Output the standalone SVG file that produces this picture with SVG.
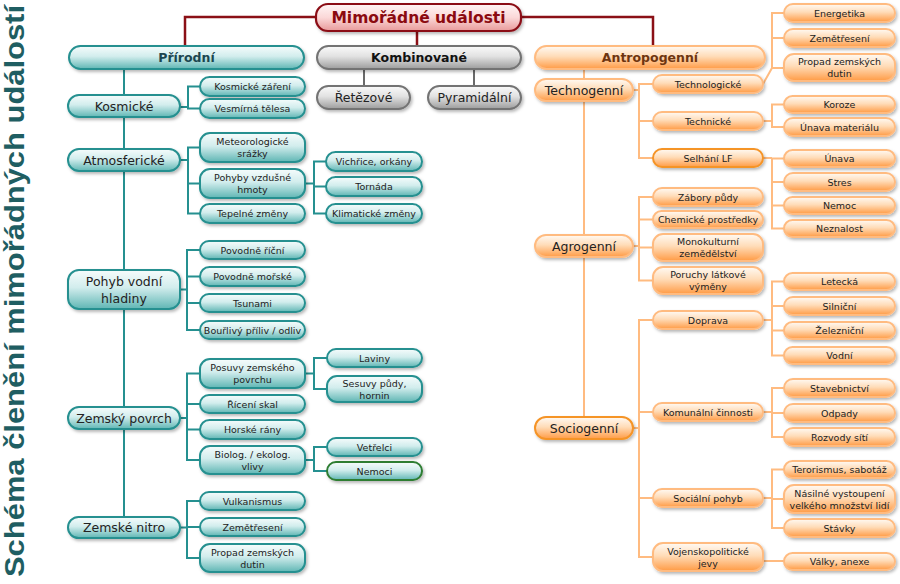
<svg xmlns="http://www.w3.org/2000/svg" width="900" height="584" viewBox="0 0 900 584">
<defs>
<linearGradient id="gt" x1="0" y1="0" x2="0" y2="1"><stop offset="0" stop-color="#f6fcfc"/><stop offset="0.45" stop-color="#d2eded"/><stop offset="1" stop-color="#5fb6b4"/></linearGradient>
<linearGradient id="go" x1="0" y1="0" x2="0" y2="1"><stop offset="0" stop-color="#fffaf4"/><stop offset="0.45" stop-color="#ffdcb8"/><stop offset="1" stop-color="#ff9b45"/></linearGradient>
<linearGradient id="gg" x1="0" y1="0" x2="0" y2="1"><stop offset="0" stop-color="#fafafa"/><stop offset="0.45" stop-color="#e2e2e2"/><stop offset="1" stop-color="#9c9c9c"/></linearGradient>
<linearGradient id="gr" x1="0" y1="0" x2="0" y2="1"><stop offset="0" stop-color="#fff6f6"/><stop offset="0.5" stop-color="#fbd8d8"/><stop offset="1" stop-color="#e89a9a"/></linearGradient>
<filter id="sh" x="-10%" y="-20%" width="130%" height="160%"><feDropShadow dx="1.5" dy="2" stdDeviation="1.5" flood-color="#000" flood-opacity="0.28"/></filter>
</defs>
<style>
.t{fill:url(#gt);stroke:#259090;stroke-width:2;filter:url(#sh)}
.o{fill:url(#go);stroke:#ffbb80;stroke-width:2;filter:url(#sh)}
.od{fill:url(#go);stroke:#f59428;stroke-width:2;filter:url(#sh)}
.g{fill:url(#gg);stroke:#737373;stroke-width:2;filter:url(#sh)}
.r{fill:url(#gr);stroke:#8b1016;stroke-width:2.2;filter:url(#sh)}
.ng{fill:url(#gt);stroke:#2e7d32;stroke-width:2;filter:url(#sh)}
text{font-family:"DejaVu Sans",Verdana,sans-serif;text-anchor:middle;dominant-baseline:central;fill:#222}
.s{font-size:9.5px}
.m{font-size:12.5px}
.b{font-size:12.5px;font-weight:bold}
.lt{stroke:#259090;stroke-width:2;fill:none}
.lo{stroke:#ffbb80;stroke-width:2;fill:none}
.lg{stroke:#6a6a6a;stroke-width:2;fill:none}
.lr{stroke:#8b1016;stroke-width:2.5;fill:none}
</style>

<text transform="translate(14,291) rotate(-90)" style="font-family:'Liberation Sans',Arial,sans-serif;font-size:28px;font-weight:bold;fill:#1f5e62" textLength="572" lengthAdjust="spacingAndGlyphs">Schéma členění mimořádných událostí</text>

<g id="connectors">
<path class="lr" d="M316,17 H185 V46 M521,17 H653 V46 M417,31 V46"/>
<path class="lg" d="M364,69 V86 M474,69 V86"/>
<path class="lt" d="M124,69 V517"/>
<path class="lt" d="M180,107 H188 M200,86.5 H188 V108.5 H200"/>
<path class="lt" d="M180,160 H188 M200,147.5 H188 V213.5 H200 M188,183.5 H200"/>
<path class="lt" d="M180,289.5 H187 M200,250 H187 V330 H200 M187,276.5 H200 M187,303 H200"/>
<path class="lt" d="M180,418 H187 M200,373.5 H187 V460 H200 M187,404 H200 M187,429.5 H200"/>
<path class="lt" d="M180,527.5 H187 M200,501 H187 V558 H200 M187,527 H200"/>
<path class="lt" d="M305,183.5 H314 M326,161.5 H314 V213.5 H326 M314,186.5 H326"/>
<path class="lt" d="M305,373.5 H314 M327,358 H314 V389 H327"/>
<path class="lt" d="M305,460 H314 M327,447 H314 V471 H327"/>
<path class="lo" d="M584,69 V417"/>
<path class="lo" d="M633,90 H639 M653,84 H639 V158 H653 M639,121 H653"/>
<path class="lo" d="M633,246 H639 M653,197 H639 V280.5 H653 M639,219.5 H653 M639,247.5 H653"/>
<path class="lo" d="M633,428 H639 M653,320 H639 V557 H653 M639,412 H653 M639,498 H653"/>
<path class="lo" d="M763,84 L772,68 V13 H784 M772,38 H784 M772,68 H784"/>
<path class="lo" d="M763,121 H772 M784,104.5 H772 V127 H784"/>
<path class="lo" d="M763,158 H772 M784,158.5 H772 V228.5 H784 M772,182 H784 M772,205.5 H784"/>
<path class="lo" d="M763,320 H772 M784,281.5 H772 V355.5 H784 M772,306 H784 M772,330.5 H784"/>
<path class="lo" d="M763,412 H772 M784,388 H772 V437 H784 M772,413 H784"/>
<path class="lo" d="M763,498 H772 M784,469.5 H772 V528 H784 M772,499 H784"/>
<path class="lo" d="M763,561 H784"/>
</g>

<g id="root"><rect class="r" x="316" y="4" width="205" height="27" rx="12"/><text x="418.5" y="17.5" style="font-size:15.5px;font-weight:bold;fill:#8b0a10">Mimořádné události</text></g>

<g id="prirodni"><rect class="t" x="69" y="46" width="235" height="23" rx="11.5"/><text class="b" x="186.5" y="57.5" style="fill:#1b4650">Přírodní</text></g>
<g id="kombinovane"><rect class="g" x="317" y="46" width="204" height="23" rx="11.5"/><text class="b" x="419" y="57.5" style="fill:#111">Kombinované</text></g>
<g id="retezove"><rect class="g" x="317" y="86" width="93" height="23" rx="11.5"/><text class="m" x="363.5" y="97.5">Řetězové</text></g>
<g id="pyramidalni"><rect class="g" x="428" y="86" width="93" height="23" rx="11.5"/><text class="m" x="474.5" y="97.5">Pyramidální</text></g>
<g id="antropogenni"><rect class="o" x="535" y="46" width="230" height="23" rx="11.5"/><text class="b" x="650" y="57.5" style="fill:#6e3510">Antropogenní</text></g>

<g id="kosmicke"><rect class="t" x="68" y="95" width="112" height="22" rx="11"/><text class="m" x="124" y="106">Kosmické</text></g>
<g id="atmosfericke"><rect class="t" x="68" y="149" width="112" height="22" rx="11"/><text class="m" x="124" y="160">Atmosferické</text></g>
<g id="pohyb-vodni-hladiny"><rect class="t" x="68" y="270" width="112" height="39" rx="11"/><text class="m" x="124" y="281">Pohyb vodní</text><text class="m" x="124" y="298">hladiny</text></g>
<g id="zemsky-povrch"><rect class="t" x="68" y="407" width="112" height="22" rx="11"/><text class="m" x="124" y="418">Zemský povrch</text></g>
<g id="zemske-nitro"><rect class="t" x="68" y="517" width="112" height="21" rx="10.5"/><text class="m" x="124" y="527.5">Zemské nitro</text></g>

<g id="kosmicke-zareni"><rect class="t" x="200" y="77" width="105" height="19" rx="9.5"/><text class="s" x="252.5" y="86.5">Kosmické záření</text></g>
<g id="vesmirna-telesa"><rect class="t" x="200" y="99" width="105" height="19" rx="9.5"/><text class="s" x="252.5" y="108.5">Vesmírná tělesa</text></g>
<g id="meteorologicke-srazky"><rect class="t" x="200" y="133" width="105" height="29" rx="10"/><text class="s" x="252.5" y="141.5">Meteorologické</text><text class="s" x="252.5" y="153.5">srážky</text></g>
<g id="pohyby-vzdusne-hmoty"><rect class="t" x="200" y="169" width="105" height="29" rx="10"/><text class="s" x="252.5" y="177.5">Pohyby vzdušné</text><text class="s" x="252.5" y="189.5">hmoty</text></g>
<g id="tepelne-zmeny"><rect class="t" x="200" y="204" width="105" height="19" rx="9.5"/><text class="s" x="252.5" y="213.5">Tepelné změny</text></g>
<g id="povodne-ricni"><rect class="t" x="200" y="241" width="105" height="18" rx="9"/><text class="s" x="252.5" y="250">Povodně říční</text></g>
<g id="povodne-morske"><rect class="t" x="200" y="267" width="105" height="19" rx="9.5"/><text class="s" x="252.5" y="276.5">Povodně mořské</text></g>
<g id="tsunami"><rect class="t" x="200" y="294" width="105" height="18" rx="9"/><text class="s" x="252.5" y="303">Tsunami</text></g>
<g id="bourlivy-priliv"><rect class="t" x="200" y="321" width="105" height="18" rx="9"/><text class="s" x="252.5" y="330">Bouřlivý příliv / odliv</text></g>
<g id="posuvy"><rect class="t" x="200" y="359" width="105" height="29" rx="10"/><text class="s" x="252.5" y="367.5">Posuvy zemského</text><text class="s" x="252.5" y="379.5">povrchu</text></g>
<g id="riceni-skal"><rect class="t" x="200" y="395" width="105" height="18" rx="9"/><text class="s" x="252.5" y="404">Řícení skal</text></g>
<g id="horske-rany"><rect class="t" x="200" y="420" width="105" height="19" rx="9.5"/><text class="s" x="252.5" y="429.5">Horské rány</text></g>
<g id="biolog"><rect class="t" x="200" y="446" width="105" height="28" rx="10"/><text class="s" x="252.5" y="454">Biolog. / ekolog.</text><text class="s" x="252.5" y="466">vlivy</text></g>
<g id="vulkanismus"><rect class="t" x="200" y="492" width="105" height="18" rx="9"/><text class="s" x="252.5" y="501">Vulkanismus</text></g>
<g id="zemetreseni-p"><rect class="t" x="200" y="518" width="105" height="18" rx="9"/><text class="s" x="252.5" y="527">Zemětřesení</text></g>
<g id="propad-p"><rect class="t" x="200" y="544" width="105" height="28" rx="10"/><text class="s" x="252.5" y="552">Propad zemských</text><text class="s" x="252.5" y="564">dutin</text></g>

<g id="vichrice"><rect class="t" x="326" y="152" width="96" height="19" rx="9.5"/><text class="s" x="374" y="161.5">Vichřice, orkány</text></g>
<g id="tornada"><rect class="t" x="326" y="177" width="96" height="19" rx="9.5"/><text class="s" x="374" y="186.5">Tornáda</text></g>
<g id="klimaticke-zmeny"><rect class="t" x="326" y="204" width="96" height="19" rx="9.5"/><text class="s" x="374" y="213.5">Klimatické změny</text></g>
<g id="laviny"><rect class="t" x="327" y="349" width="95" height="18" rx="9"/><text class="s" x="374.5" y="358">Laviny</text></g>
<g id="sesuvy"><rect class="t" x="327" y="376" width="95" height="26" rx="10"/><text class="s" x="374.5" y="383.5">Sesuvy půdy,</text><text class="s" x="374.5" y="395">hornin</text></g>
<g id="vetrelci"><rect class="t" x="327" y="438" width="95" height="18" rx="9"/><text class="s" x="374.5" y="447">Vetřelci</text></g>
<g id="nemoci"><rect class="ng" x="327" y="462" width="95" height="18" rx="9"/><text class="s" x="374.5" y="471">Nemoci</text></g>

<g id="technogenni"><rect class="o" x="535" y="79" width="98" height="22" rx="11"/><text class="m" x="584" y="90">Technogenní</text></g>
<g id="agrogenni"><rect class="o" x="535" y="235" width="98" height="22" rx="11"/><text class="m" x="584" y="246">Agrogenní</text></g>
<g id="sociogenni"><rect class="od" x="535" y="417" width="98" height="22" rx="11"/><text class="m" x="584" y="428">Sociogenní</text></g>

<g id="technologicke"><rect class="o" x="653" y="75" width="110" height="18" rx="9"/><text class="s" x="708" y="84">Technologické</text></g>
<g id="technicke"><rect class="o" x="653" y="112" width="110" height="18" rx="9"/><text class="s" x="708" y="121">Technické</text></g>
<g id="selhani-lf"><rect class="od" x="653" y="149" width="110" height="18" rx="9"/><text class="s" x="708" y="158">Selhání LF</text></g>
<g id="zabory-pudy"><rect class="o" x="653" y="188" width="110" height="18" rx="9"/><text class="s" x="708" y="197">Zábory půdy</text></g>
<g id="chemicke"><rect class="o" x="653" y="211" width="110" height="17" rx="8.5"/><text class="s" x="708" y="219.5">Chemické prostředky</text></g>
<g id="monokulturni"><rect class="o" x="653" y="234" width="110" height="27" rx="10"/><text class="s" x="708" y="241.5">Monokulturní</text><text class="s" x="708" y="253.5">zemědělství</text></g>
<g id="poruchy"><rect class="o" x="653" y="267" width="110" height="27" rx="10"/><text class="s" x="708" y="274.5">Poruchy látkové</text><text class="s" x="708" y="286.5">výměny</text></g>
<g id="doprava"><rect class="o" x="653" y="311" width="110" height="18" rx="9"/><text class="s" x="708" y="320">Doprava</text></g>
<g id="komunalni"><rect class="o" x="653" y="403" width="110" height="18" rx="9"/><text class="s" x="708" y="412">Komunální činnosti</text></g>
<g id="socialni-pohyb"><rect class="o" x="653" y="489" width="110" height="18" rx="9"/><text class="s" x="708" y="498">Sociální pohyb</text></g>
<g id="vojenskopoliticke"><rect class="o" x="653" y="543" width="110" height="28" rx="10"/><text class="s" x="708" y="551">Vojenskopolitické</text><text class="s" x="708" y="563">jevy</text></g>

<g id="energetika"><rect class="o" x="784" y="4" width="111" height="18" rx="9"/><text class="s" x="839.5" y="13">Energetika</text></g>
<g id="zemetreseni-a"><rect class="o" x="784" y="29" width="111" height="18" rx="9"/><text class="s" x="839.5" y="38">Zemětřesení</text></g>
<g id="propad-a"><rect class="o" x="784" y="54" width="111" height="27" rx="10"/><text class="s" x="839.5" y="61.5">Propad zemských</text><text class="s" x="839.5" y="73.5">dutin</text></g>
<g id="koroze"><rect class="o" x="784" y="96" width="111" height="17" rx="8.5"/><text class="s" x="839.5" y="104.5">Koroze</text></g>
<g id="unava-materialu"><rect class="o" x="784" y="118" width="111" height="18" rx="9"/><text class="s" x="839.5" y="127">Únava materiálu</text></g>
<g id="unava"><rect class="o" x="784" y="150" width="111" height="17" rx="8.5"/><text class="s" x="839.5" y="158.5">Únava</text></g>
<g id="stres"><rect class="o" x="784" y="173" width="111" height="18" rx="9"/><text class="s" x="839.5" y="182">Stres</text></g>
<g id="nemoc"><rect class="o" x="784" y="197" width="111" height="17" rx="8.5"/><text class="s" x="839.5" y="205.5">Nemoc</text></g>
<g id="neznalost"><rect class="o" x="784" y="220" width="111" height="17" rx="8.5"/><text class="s" x="839.5" y="228.5">Neznalost</text></g>
<g id="letecka"><rect class="o" x="784" y="273" width="111" height="17" rx="8.5"/><text class="s" x="839.5" y="281.5">Letecká</text></g>
<g id="silnicni"><rect class="o" x="784" y="297" width="111" height="18" rx="9"/><text class="s" x="839.5" y="306">Silniční</text></g>
<g id="zeleznicni"><rect class="o" x="784" y="322" width="111" height="17" rx="8.5"/><text class="s" x="839.5" y="330.5">Železniční</text></g>
<g id="vodni"><rect class="o" x="784" y="347" width="111" height="17" rx="8.5"/><text class="s" x="839.5" y="355.5">Vodní</text></g>
<g id="stavebnictvi"><rect class="o" x="784" y="379" width="111" height="18" rx="9"/><text class="s" x="839.5" y="388">Stavebnictví</text></g>
<g id="odpady"><rect class="o" x="784" y="404" width="111" height="18" rx="9"/><text class="s" x="839.5" y="413">Odpady</text></g>
<g id="rozvody-siti"><rect class="o" x="784" y="428" width="111" height="18" rx="9"/><text class="s" x="839.5" y="437">Rozvody sítí</text></g>
<g id="terorismus"><rect class="o" x="784" y="461" width="111" height="17" rx="8.5"/><text class="s" x="839.5" y="469.5">Terorismus, sabotáž</text></g>
<g id="nasilne"><rect class="o" x="784" y="485" width="111" height="28" rx="10"/><text class="s" x="839.5" y="493">Násilné vystoupení</text><text class="s" x="839.5" y="505">velkého množství lidí</text></g>
<g id="stavky"><rect class="o" x="784" y="519" width="111" height="18" rx="9"/><text class="s" x="839.5" y="528">Stávky</text></g>
<g id="valky"><rect class="o" x="784" y="553" width="111" height="17" rx="8.5"/><text class="s" x="839.5" y="561.5">Války, anexe</text></g>
</svg>
